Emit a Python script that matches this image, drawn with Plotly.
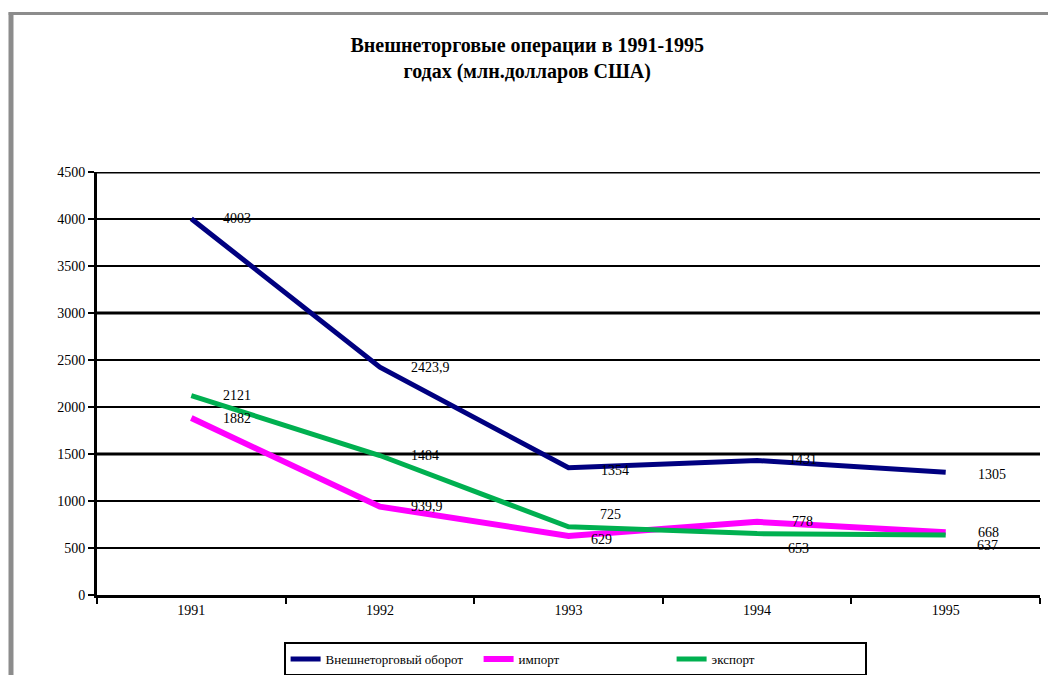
import plotly.graph_objects as go

years = ["1991", "1992", "1993", "1994", "1995"]
turnover = [4003, 2423.9, 1354, 1431, 1305]
imports = [1882, 939.9, 629, 778, 668]
exports = [2121, 1484, 725, 653, 637]

turnover_lbl = ["4003", "2423,9", "1354", "1431", "1305"]
imports_lbl = ["1882", "939,9", "629", "778", "668"]
exports_lbl = ["2121", "1484", "725", "653", "637"]

series = [
    ("Внешнеторговый оборот", turnover, turnover_lbl, "#000080", 5),
    ("импорт", imports, imports_lbl, "#FF00FF", 6),
    ("экспорт", exports, exports_lbl, "#00B050", 5),
]

# label offsets (style)
label_dx = {
    "Внешнеторговый оборот": [30, 29, 30, 30, 30],
    "импорт": [30, 29, 20, 33, 30],
    "экспорт": [30, 29, 29, 29, 29],
}
label_dy = {
    "Внешнеторговый оборот": [0, 0, -3, 1, -2],
    "импорт": [0, 0, -4, 0, 0],
    "экспорт": [0, 0, 12, -15, -10],
}

FONT = "Liberation Serif"

fig = go.Figure()
for name, vals, lbls, color, w in series:
    fig.add_trace(go.Scatter(
        x=years, y=vals, mode="lines", name=name,
        line=dict(color=color, width=w),
    ))
    for i, (y, t) in enumerate(zip(vals, lbls)):
        fig.add_annotation(
            x=i, y=y, text=t, showarrow=False,
            xanchor="left", yanchor="middle",
            xshift=label_dx[name][i], yshift=label_dy[name][i],
            font=dict(family=FONT, size=14, color="black"),
        )

# thicker gridlines like the reference
for gy in [1500, 3000, 4500]:
    fig.add_shape(type="line", xref="paper", yref="y", x0=0, x1=1, y0=gy, y1=gy,
                  line=dict(color="black", width=3), layer="below")

# grey outer frame
fig.add_shape(type="line", xref="paper", yref="paper",
              x0=-0.0912, x1=-0.0912, y0=1.3775, y1=-0.3,
              line=dict(color="#8c8c8c", width=5))
fig.add_shape(type="line", xref="paper", yref="paper",
              x0=-0.0937, x1=1.05, y0=1.3747, y1=1.3747,
              line=dict(color="#8c8c8c", width=3))

fig.update_layout(
    width=1048, height=667,
    margin=dict(l=89, r=16, t=164, b=80, autoexpand=False),
    paper_bgcolor="white", plot_bgcolor="white",
    title=dict(
        text="<b>Внешнеторговые операции в 1991-1995<br>годах (млн.долларов США)</b>",
        x=0.4955, xanchor="center", y=0.9345, yanchor="middle", yref="container",
        font=dict(family=FONT, size=20, color="black"),
    ),
    font=dict(family=FONT, size=14, color="black"),
    showlegend=True,
    legend=dict(
        orientation="h", x=0.507, xanchor="center", y=-0.111, yanchor="top",
        bordercolor="black", borderwidth=2, bgcolor="white",
        font=dict(family=FONT, size=13, color="black"),
        entrywidth=148, entrywidthmode="pixels",
    ),
    xaxis=dict(
        type="category", range=[-0.5, 4.5], showline=True, linecolor="black", linewidth=3,
        ticks="outside", tickson="boundaries", ticklen=6, tickwidth=1.5,
        tickcolor="black", showgrid=False, zeroline=False,
        tickfont=dict(family=FONT, size=14),
    ),
    yaxis=dict(
        range=[0, 4500], dtick=500, showline=True, linecolor="black", linewidth=3,
        ticks="outside", ticklen=6, tickwidth=2, tickcolor="black",
        showgrid=True, gridcolor="black", gridwidth=1.5, zeroline=False,
        tickfont=dict(family=FONT, size=14),
    ),
)

fig.write_html("out.html")
